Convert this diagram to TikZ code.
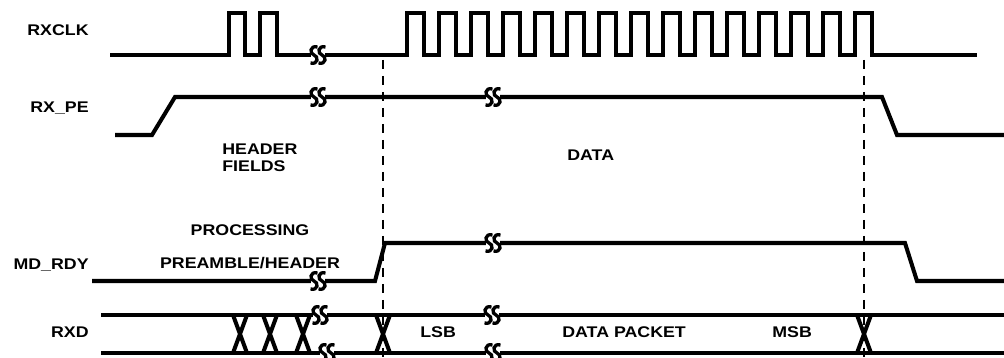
\documentclass[tikz,border=0pt]{standalone}
\usepackage{fontspec}
\setmainfont{Liberation Sans}[FakeStretch=1.15]
\usetikzlibrary{calc}

\tikzset{
  wave/.style={line width=2.3pt, line join=miter},
  guide/.style={line width=1.1pt, dash pattern=on 0.18cm off 0.14cm},
  lbl/.style={font=\fontsize{8.8}{9.6}\selectfont\bfseries, inner sep=0pt},
  brk/.pic={
    \fill[white] (-7,-4.5) rectangle (7,4.5);
    \foreach \dx in {-4,4}
      \draw[line width=1.9pt] (\dx+3.5,-8) .. controls (\dx-4.5,-10) and (\dx-4.5,-1) .. (\dx,0)
        .. controls (\dx+4.5,1) and (\dx+4.5,10) .. (\dx-3.5,8);
  }
}

\begin{document}
\begin{tikzpicture}[x=0.02cm, y=-0.02cm]
  \useasboundingbox (0,0) rectangle (1004,358);
  \def\clkhi{13}
  \def\clklo{55}
  \def\pehi{97}
  \def\pelo{135}
  \def\rdyhi{243}
  \def\rdylo{281}
  \def\dtop{315}
  \def\dbot{353}

  \node[lbl, anchor=east] (rxclk) at (89,30)  {RXCLK};
  \node[lbl, anchor=east] (rxpe)  at (89,108) {RX\_PE};
  \node[lbl, anchor=east] (mdrdy) at (89,265) {MD\_RDY};
  \node[lbl, anchor=east] (rxd)   at (89,332) {RXD};

  \draw[guide] (383,60) -- (383,358);
  \draw[guide] (864,60) -- (864,358);

  \draw[wave] (110,\clklo) -| (229,\clkhi) -| (245,\clklo) -| (260,\clkhi) -| (277,\clklo) -- (407,\clklo)
    \foreach \i in {0,...,14}{
      -- (407+32*\i,\clkhi) -- (424+32*\i,\clkhi) -- (424+32*\i,\clklo) -- (439+32*\i,\clklo)
    } -- (977,\clklo);

  \draw[wave] (115,\pelo) -- (152,\pelo) -- (175,\pehi) -- (882,\pehi) -- (897,\pelo) -- (1004,\pelo);
  \draw[wave] (92,\rdylo) -- (375,\rdylo) -- (385,\rdyhi) -- (905,\rdyhi) -- (917,\rdylo) -- (1004,\rdylo);

  \draw[wave] (101,\dtop) -- (1004,\dtop);
  \draw[wave] (101,\dbot) -- (1004,\dbot);
  \foreach \cx in {240,270,303,383,864}
    \draw[wave] (\cx-7,\dtop) -- (\cx+7,\dbot) (\cx-7,\dbot) -- (\cx+7,\dtop);

  \pic at (318,\clklo) {brk};
  \pic at (318,\pehi) {brk};
  \pic at (493,\pehi) {brk};
  \pic at (318,\rdylo) {brk};
  \pic at (493,\rdyhi) {brk};
  \pic at (320,\dtop) {brk};
  \pic at (327,\dbot) {brk};
  \pic at (492,\dtop) {brk};
  \pic at (493,\dbot) {brk};

  \node[lbl, anchor=west, align=left] (hdr) at (222,158) {HEADER\\FIELDS};
  \node[lbl, anchor=west] (data) at (567,155) {DATA};
  \node[lbl] (proc) at (250,230) {PROCESSING};
  \node[lbl] (pre)  at (250,263) {PREAMBLE/HEADER};
  \node[lbl, anchor=west] (lsb) at (420,332) {LSB};
  \node[lbl, anchor=west] (pkt) at (562,332) {DATA PACKET};
  \node[lbl, anchor=west] (msb) at (772,332) {MSB};
\end{tikzpicture}
\end{document}
